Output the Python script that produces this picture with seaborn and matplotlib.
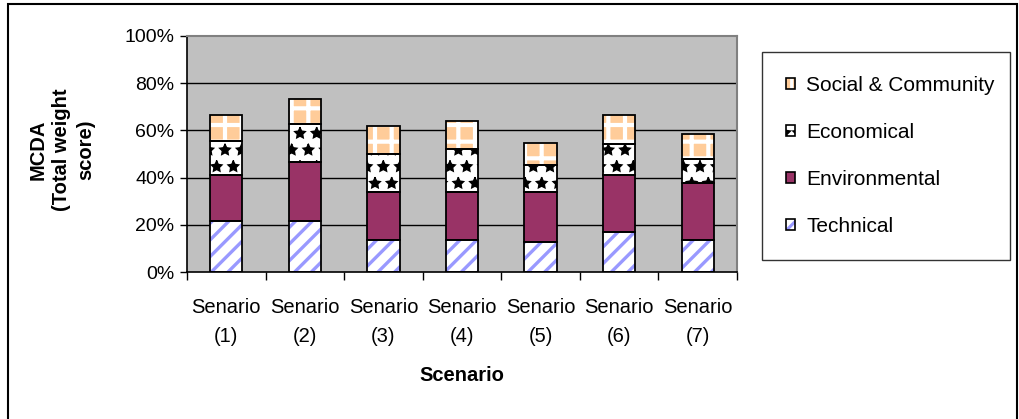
import matplotlib
matplotlib.use("Agg")
import matplotlib.pyplot as plt
import matplotlib.patches as mpatches
from matplotlib.legend_handler import HandlerTuple
from matplotlib.ticker import PercentFormatter, FixedLocator
import seaborn as sns
import numpy as np
import pandas as pd

# values (fractions of total)
scenarios = ["Senario\n(1)", "Senario\n(2)", "Senario\n(3)", "Senario\n(4)",
             "Senario\n(5)", "Senario\n(6)", "Senario\n(7)"]
technical = [0.217, 0.217, 0.136, 0.136, 0.128, 0.171, 0.136]
environmental = [0.193, 0.248, 0.204, 0.204, 0.212, 0.240, 0.240]
economical = [0.146, 0.161, 0.160, 0.181, 0.113, 0.131, 0.101]
social = [0.109, 0.108, 0.119, 0.120, 0.095, 0.123, 0.106]

series_names = ["Technical", "Environmental", "Economical", "Social & Community"]
series_vals = [technical, environmental, economical, social]

# face, hatch colour, hatch, hatch linewidth
styles = {
    "Technical": ("white", "#9999FF", "//", 2.4),
    "Environmental": ("#993366", "#993366", "", 1.0),
    "Economical": ("white", "black", "*", 1.0),
    "Social & Community": ("#FFCC99", "white", "+", 3.0),
}

sns.set_theme(style="white")
plt.rcParams["font.family"] = ["Liberation Sans", "DejaVu Sans"]
plt.rcParams["hatch.linewidth"] = 2.2
plt.rcParams["text.color"] = "black"
plt.rcParams["axes.labelcolor"] = "black"
plt.rcParams["xtick.color"] = "black"
plt.rcParams["ytick.color"] = "black"


def set_hlw(patch, lw):
    if hasattr(patch, "set_hatch_linewidth"):
        patch.set_hatch_linewidth(lw)


fig = plt.figure(figsize=(10.2, 4.19), dpi=100)
ax = fig.add_axes([187 / 1020, 1 - 272 / 419, 550 / 1020, 236 / 419])
ax.set_facecolor("#C0C0C0")

# gridlines under bars
for g in [0.2, 0.4, 0.6, 0.8]:
    ax.axhline(g, color="black", lw=1.0, zorder=0.5)

tops = np.cumsum(np.array(series_vals), axis=0)
bottoms = tops - np.array(series_vals)
bar_w = 0.41

# draw cumulative layers from the top one down so each hides the next
for i in range(len(series_names) - 1, -1, -1):
    name = series_names[i]
    face, hcol, hatch, hlw = styles[name]
    df = pd.DataFrame({"scenario": scenarios, "value": tops[i]})
    n_before = len(ax.patches)
    sns.barplot(data=df, x="scenario", y="value", order=scenarios, color=face,
                saturation=1, width=bar_w, errorbar=None, ax=ax,
                hatch=hatch, edgecolor=hcol, linewidth=0, zorder=2)
    for p in ax.patches[n_before:]:
        set_hlw(p, hlw)

# black outlines round each segment
xpos = np.arange(len(scenarios))
for i in range(len(series_names)):
    ax.bar(xpos, series_vals[i], bottom=bottoms[i], width=bar_w, fill=False,
           edgecolor="black", linewidth=1.3, zorder=3)

ax.set_xlim(-0.5, len(scenarios) - 0.5)
ax.set_ylim(0, 1)
ax.yaxis.set_major_locator(FixedLocator([0, 0.2, 0.4, 0.6, 0.8, 1.0]))
ax.yaxis.set_major_formatter(PercentFormatter(1.0, decimals=0))
ax.tick_params(axis="y", which="major", direction="out", length=5, width=1,
               color="black", labelsize=14, pad=4, left=True)
ax.set_xticks(xpos)
ax.set_xticklabels(scenarios, linespacing=1.65)
ax.set_xticks(np.arange(-0.5, len(scenarios)), minor=True)
ax.tick_params(axis="x", which="major", length=0, labelsize=14.5, pad=19)
ax.tick_params(axis="x", which="minor", direction="out", length=6, width=1,
               color="black", bottom=True)

for side in ["left", "bottom"]:
    ax.spines[side].set_color("black")
    ax.spines[side].set_linewidth(1.2)
for side in ["top", "right"]:
    ax.spines[side].set_color("#808080")
    ax.spines[side].set_linewidth(1.5)

ax.set_ylabel("")
ax.set_xlabel("Scenario", fontsize=14.5, fontweight="bold")
ax.xaxis.set_label_coords(0.5, (272 - 375) / 236)
ax.xaxis.label.set_va("center")
fig.text(62 / 1020, 1 - 150 / 419, "MCDA\n(Total weight\nscore)", rotation=90,
         ha="center", va="center", multialignment="center", fontsize=14.5,
         fontweight="bold", linespacing=1.3)

# legend
handles = []
for name in series_names[::-1]:
    face, hcol, hatch, hlw = styles[name]
    fill_p = mpatches.Patch(facecolor=face, edgecolor=hcol, hatch=hatch, linewidth=0)
    set_hlw(fill_p, hlw)
    edge_p = mpatches.Patch(fill=False, edgecolor="black", linewidth=1.2)
    handles.append((fill_p, edge_p))
leg = fig.legend(handles, series_names[::-1], loc="center left", mode="expand",
                 bbox_to_anchor=(762 / 1020, 1 - 257 / 419, 248 / 1020, 202 / 419),
                 frameon=True, fancybox=False, edgecolor="black", fontsize=15,
                 handler_map={tuple: HandlerTuple(ndivide=1)},
                 handlelength=0.42, handleheight=0.42, handletextpad=0.55,
                 labelspacing=1.35, borderpad=1.15, borderaxespad=0)
leg.get_frame().set_linewidth(1.0)

# outer frame of the whole chart
fig.patches.append(mpatches.Rectangle((8 / 1020, -0.1), 1009 / 1020, 1.1 - 4 / 419,
                                      transform=fig.transFigure, fill=False,
                                      edgecolor="black", linewidth=1.5))

fig.savefig("out.png", dpi=100)
